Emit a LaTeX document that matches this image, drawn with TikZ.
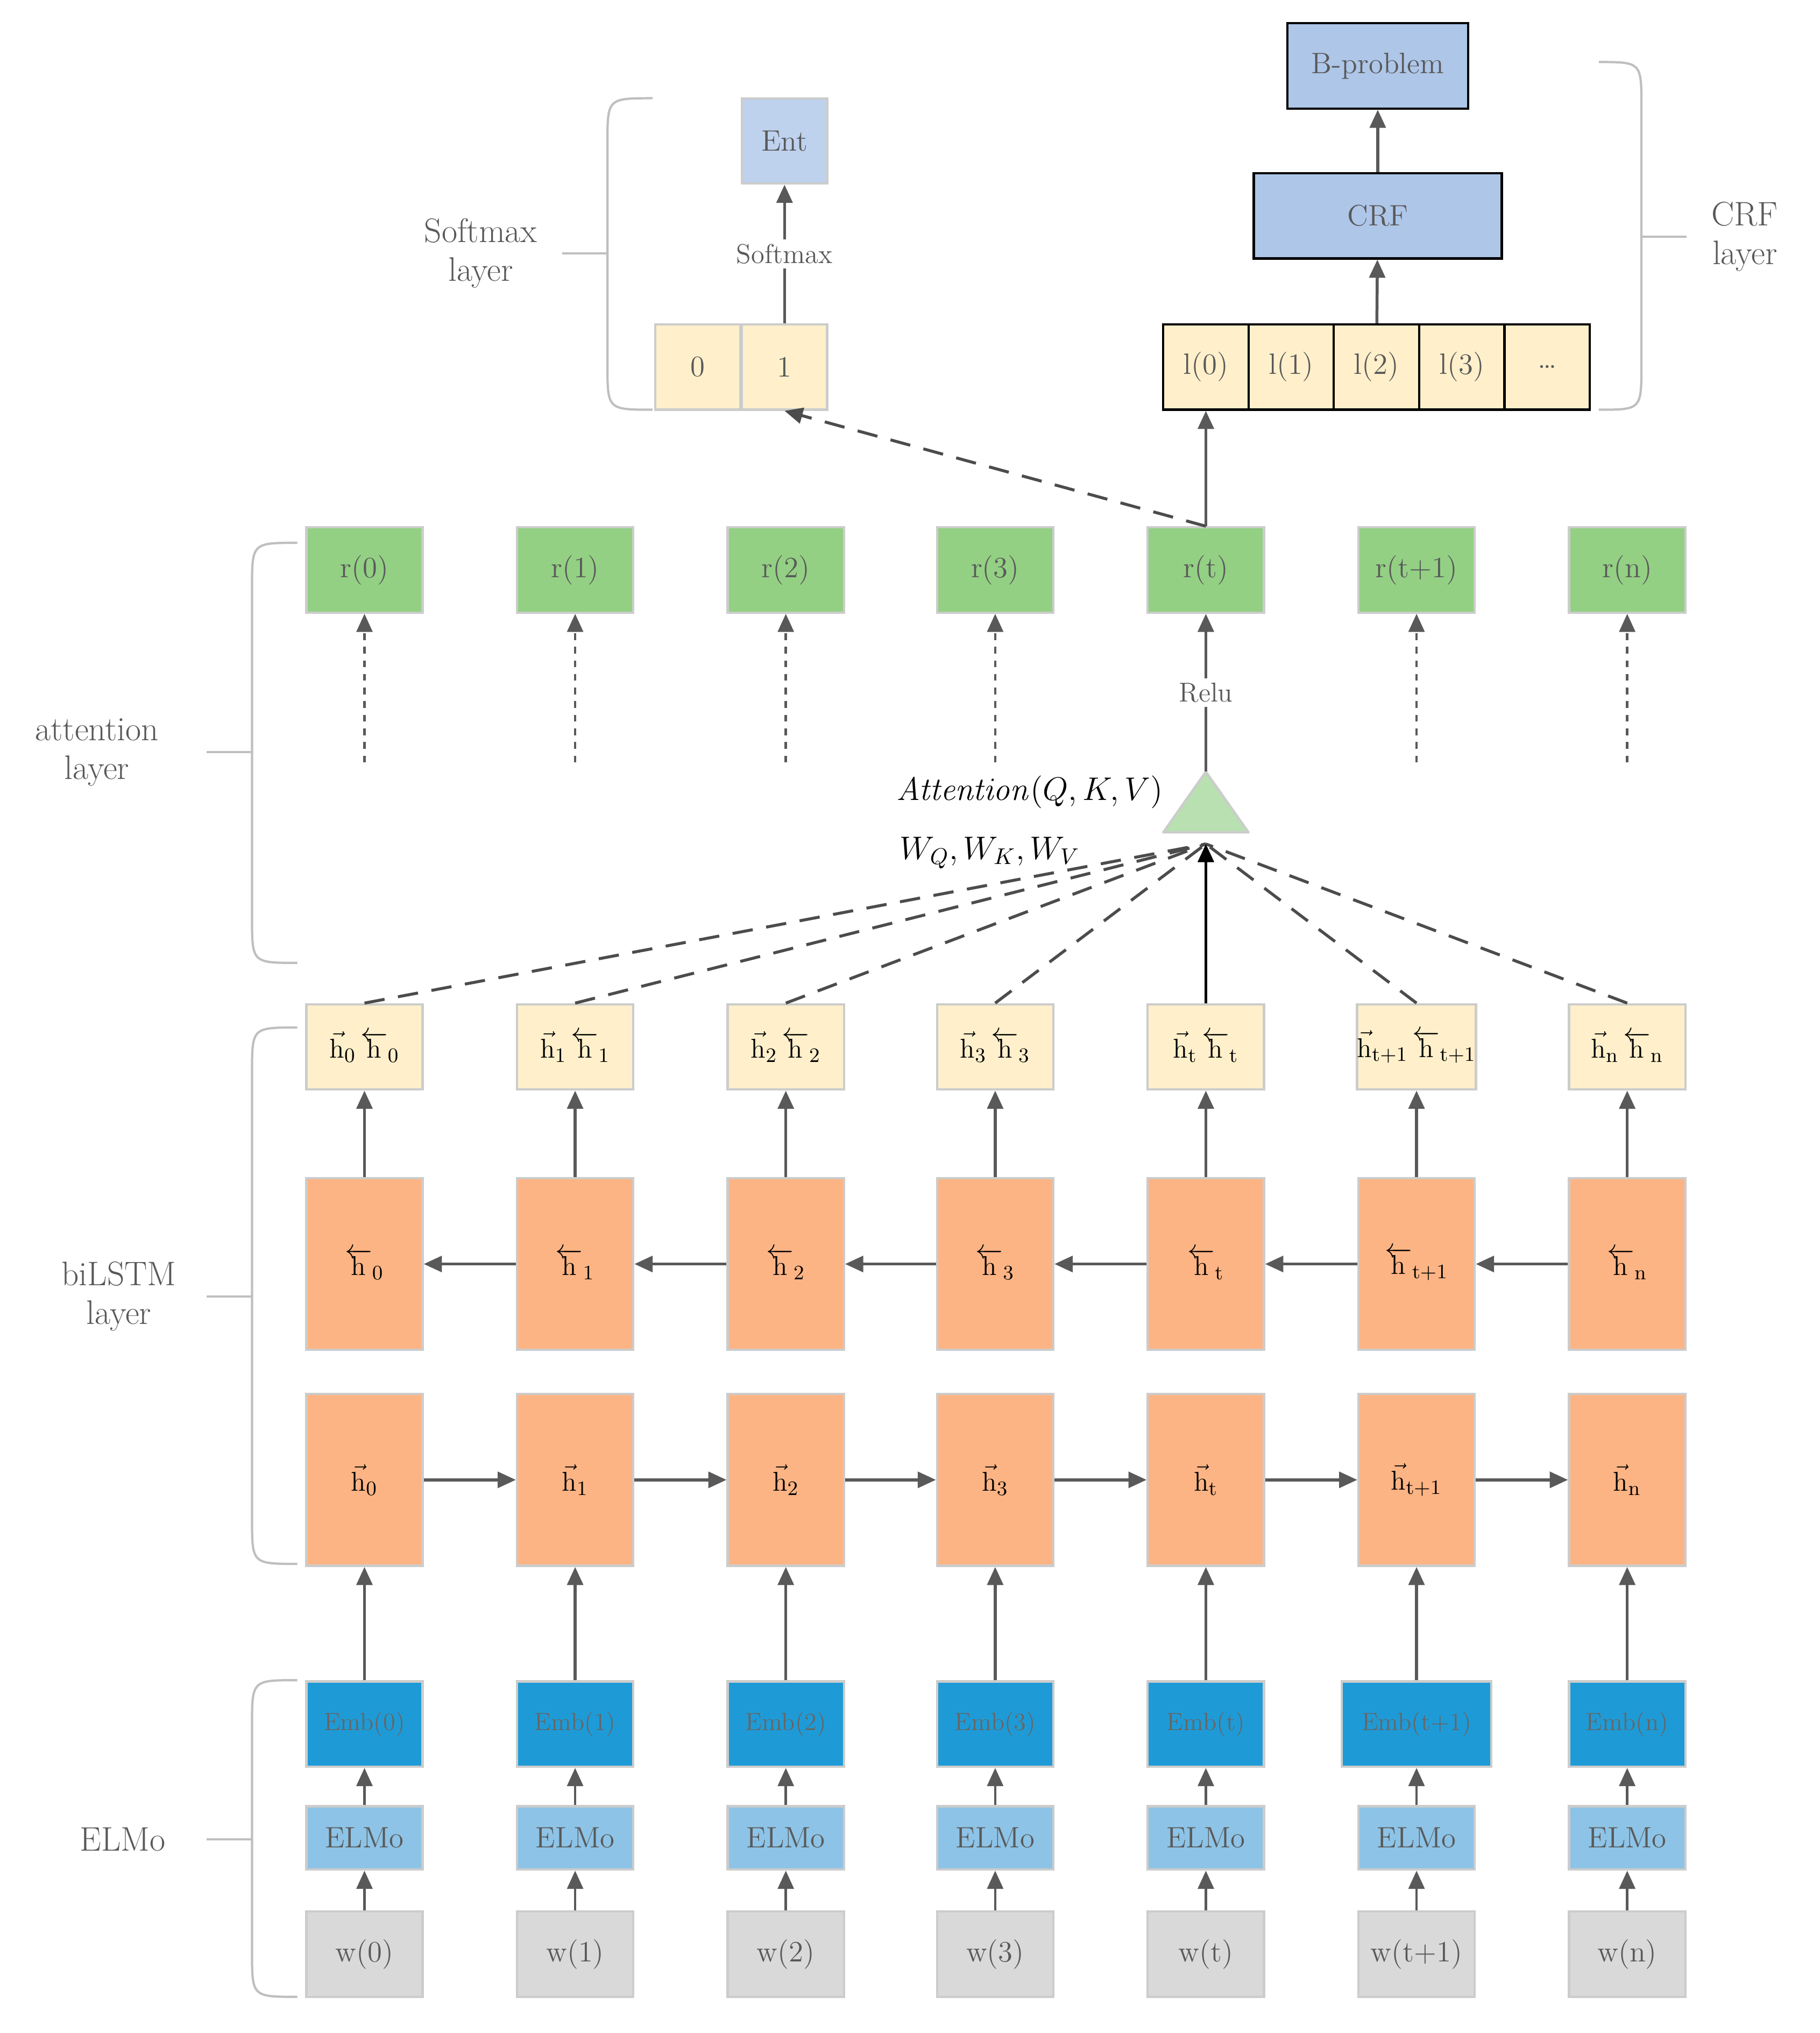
\documentclass[tikz,border=0pt]{standalone}
\usetikzlibrary{arrows.meta}
\begin{document}
\begin{tikzpicture}[x=0.02cm,y=-0.02cm,
  font=\fontsize{13}{15}\selectfont,
  bx/.style={draw=black!20,line width=1pt,minimum width=1.8cm,minimum height=1.32cm,inner sep=0pt,text=black!65},
  arr/.style={draw=black!65,line width=1.3pt,-{Triangle[length=8pt,width=7pt]}},
  dsh/.style={draw=black!70,line width=1.3pt,dash pattern=on 9pt off 6pt},
  brc/.style={draw=black!25,line width=1pt},
  lbl/.style={text=black!65,align=center,font=\fontsize{15}{17}\selectfont}]
\useasboundingbox (0,0) rectangle (1408,1573);
\definecolor{cw}{HTML}{D9D9D9}\definecolor{ce}{HTML}{8DC3E6}\definecolor{cm}{HTML}{1E9BD7}
\definecolor{co}{HTML}{FDB484}\definecolor{cy}{HTML}{FFF0CB}\definecolor{cg}{HTML}{93D084}
\definecolor{cb}{HTML}{AEC6E8}\definecolor{ct}{HTML}{B8E0B0}
\foreach \i/\x/\s/\ew in {0/282/0/1.8,1/445/1/1.8,2/608/2/1.8,3/770/3/1.8,4/933/t/1.8,5/1096/t+1/2.32,6/1259/n/1.8}{
  \node[bx,fill=cw] (w\i) at (\x,1512) {w(\s)};
  \node[bx,fill=ce,minimum height=0.98cm] (e\i) at (\x,1422) {ELMo};
  \node[bx,fill=cm,minimum width=\ew cm,font=\fontsize{11}{13}\selectfont,text=black!60] (m\i) at (\x,1334) {Emb(\s)};
  \node[bx,fill=co,minimum height=2.66cm,text=black] (f\i) at (\x,1145) {$\vec{\mathrm{h}}_{\mathrm{\s}}$};
  \node[bx,fill=co,minimum height=2.66cm,text=black] (b\i) at (\x,978) {$\overleftarrow{\mathrm{h}}_{\mathrm{\s}}$};
  \node[bx,fill=cy,text=black] (h\i) at (\x,810) {$\vec{\mathrm{h}}_{\mathrm{\s}}\,\overleftarrow{\mathrm{h}}_{\mathrm{\s}}$};
  \node[bx,fill=cg] (r\i) at (\x,441) {r(\s)};
  \draw[arr,line width=1.1pt] (w\i) -- (e\i);
  \draw[arr,line width=1.1pt] (e\i) -- (m\i);
  \draw[arr] (m\i) -- (f\i);
  \draw[arr] (b\i) -- (h\i);
}
\foreach \a/\b in {0/1,1/2,2/3,3/4,4/5,5/6}{
  \draw[arr] (f\a) -- (f\b);
  \draw[arr] (b\b) -- (b\a);
}
\foreach \i/\x in {0/282,1/445,2/608,3/770,5/1096,6/1259}{
  \coordinate (d\i) at (\x,590);
  \draw[arr,dash pattern=on 3pt off 3pt,line width=1.1pt] (d\i) -- (r\i);
}
% attention
\coordinate (apex) at (933,597);
\coordinate (conv) at (933,653);
\fill[ct] (933,597) -- (966,644) -- (900,644) -- cycle;
\draw[black!20,line width=1pt,line join=round] (933,597) -- (966,644) -- (900,644) -- cycle;
\foreach \i in {0,1,2,3,5,6}{\draw[dsh] (h\i.north) -- (conv);}
\draw[line width=1.3pt,-{Triangle[length=8pt,width=7pt]}] (h4.north) -- (conv);
\draw[arr] (apex) -- node[fill=white,inner sep=2pt,text=black!65,font=\fontsize{12}{14}\selectfont]{Relu} (r4);
\node[anchor=east,font=\fontsize{14}{16}\selectfont] (att) at (906,613) {$\mathit{Attention}(Q,K,V)$};
\node[anchor=west,font=\fontsize{14}{16}\selectfont] (wq) at (690,660) {$W_Q,W_K,W_V$};
% CRF side
\foreach \j/\x/\t in {0/933/l(0),1/999/l(1),2/1065/l(2),3/1131/l(3),4/1197/\ldots}{
  \node[bx,draw=black,fill=cy,minimum width=1.32cm] (l\j) at (\x,284) {\t};
}
\node[bx,draw=black,fill=cb,minimum width=3.84cm] (crf) at (1066,167) {CRF};
\node[bx,draw=black,fill=cb,minimum width=2.8cm] (bp) at (1066,51) {B-problem};
\draw[arr] (r4) -- (l0);
\draw[arr] (l2) -- (crf);
\draw[arr] (crf) -- (bp);
% Softmax side
\node[bx,fill=cy,minimum width=1.32cm] (s0) at (540,284) {0};
\node[bx,fill=cy,minimum width=1.32cm] (s1) at (607,284) {1};
\node[bx,fill=cb!80,minimum width=1.32cm] (ent) at (607,109) {Ent};
\draw[arr] (s1) -- node[fill=white,inner sep=2pt,text=black!65,font=\fontsize{12}{14}\selectfont]{Softmax} (ent);
\draw[dsh,-{Triangle[length=8pt,width=7pt]}] (r4.north) -- (s1.south);
% braces
\draw[brc] (230,420) .. controls (195,420) .. (195,455) -- (195,710) .. controls (195,745) .. (230,745);
\draw[brc] (195,582) -- (160,582);
\node[lbl] (la) at (75,582) {attention\\layer};
\draw[brc] (230,795) .. controls (195,795) .. (195,830) -- (195,1175) .. controls (195,1210) .. (230,1210);
\draw[brc] (195,1003) -- (160,1003);
\node[lbl] (lb) at (92,1003) {biLSTM\\layer};
\draw[brc] (230,1300) .. controls (195,1300) .. (195,1335) -- (195,1510) .. controls (195,1545) .. (230,1545);
\draw[brc] (195,1423) -- (160,1423);
\node[lbl] (le) at (95,1423) {ELMo};
\draw[brc] (505,76) .. controls (470,76) .. (470,111) -- (470,282) .. controls (470,317) .. (505,317);
\draw[brc] (470,196) -- (435,196);
\node[lbl] (ls) at (372,196) {Softmax\\layer};
\draw[brc] (1237,48) .. controls (1270,48) .. (1270,83) -- (1270,282) .. controls (1270,317) .. (1237,317);
\draw[brc] (1270,183) -- (1305,183);
\node[lbl] (lc) at (1350,183) {CRF\\layer};
\end{tikzpicture}
\end{document}
